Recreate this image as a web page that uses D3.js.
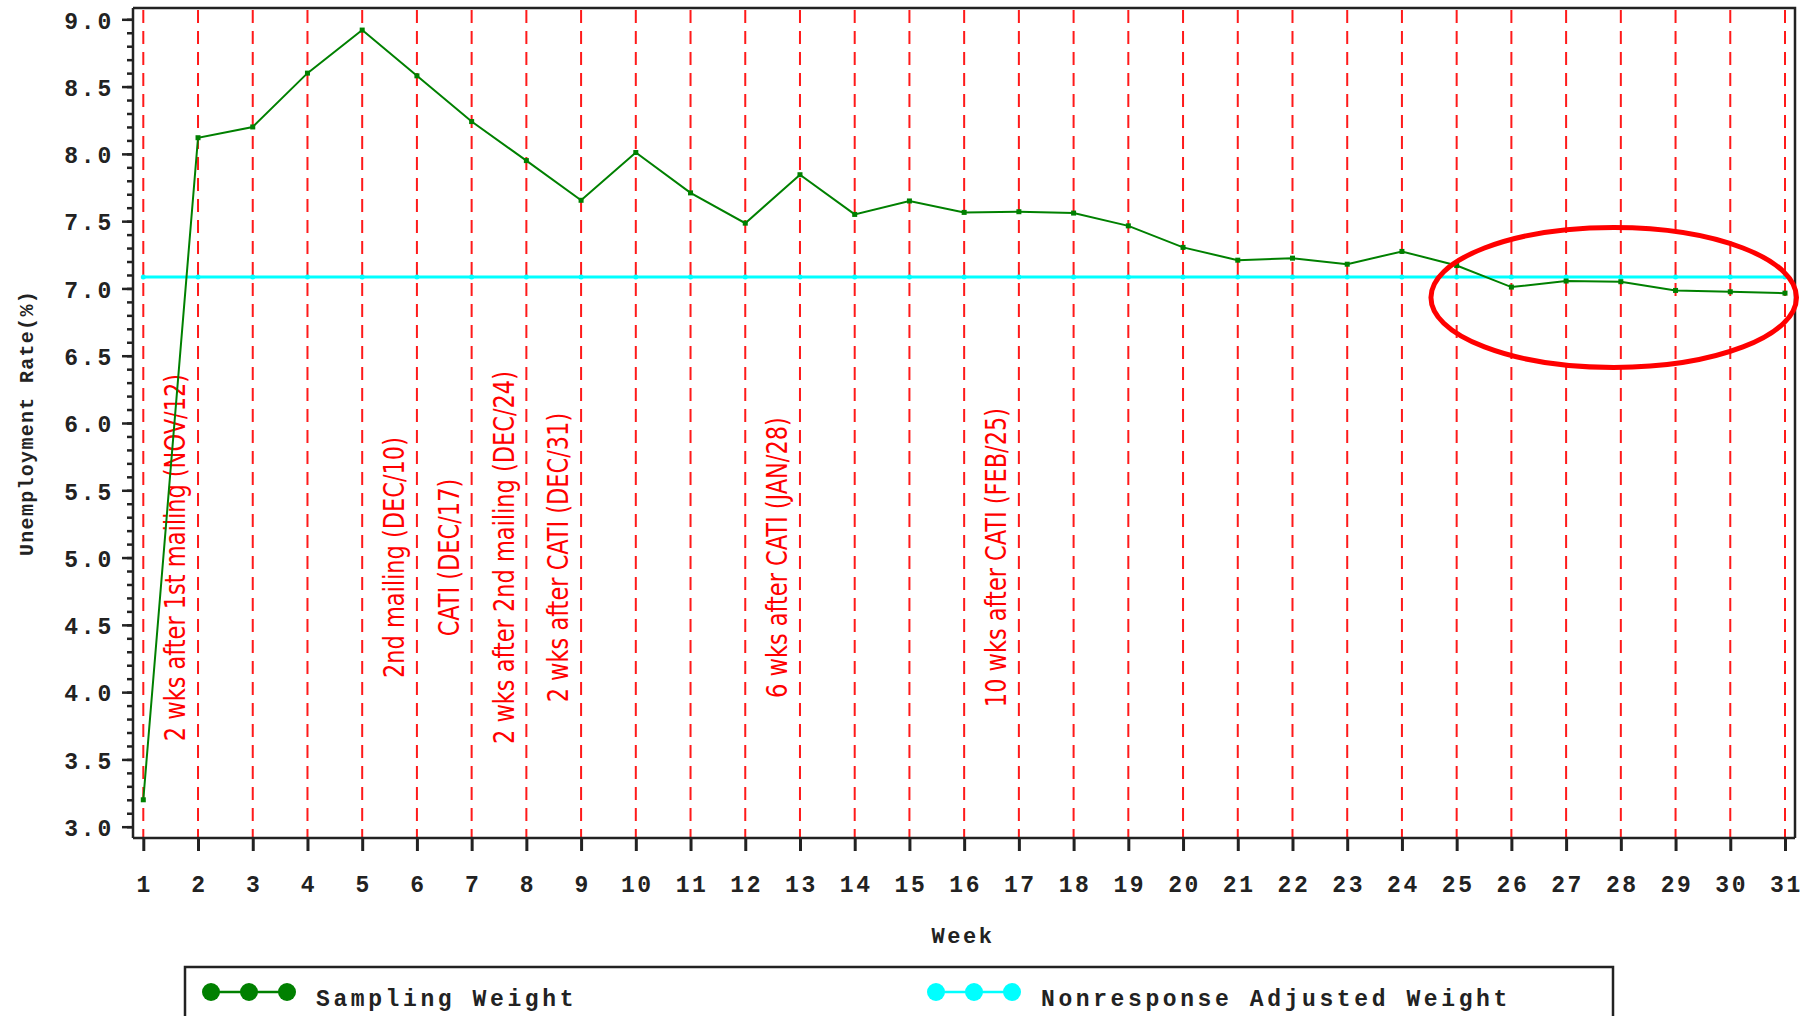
<!DOCTYPE html>
<html lang="en">
<head>
<meta charset="UTF-8">
<title>Unemployment rate by week</title>
<script src="https://cdn.jsdelivr.net/npm/d3@7"></script>
<style>
    body { margin: 0; background: #fff; }
    svg { display: block; }
    .mono { font-family: "Liberation Mono", "DejaVu Sans Mono", monospace; font-weight: bold; fill: #222; }
    .note { font-family: "Liberation Sans Narrow", "DejaVu Sans Condensed", sans-serif; fill: #ff0000; }
</style>
</head>
<body>
<div id="chart"></div>
<script>
    // data
    var weeks = [1,2,3,4,5,6,7,8,9,10,11,12,13,14,15,16,17,18,19,20,21,22,23,24,25,26,27,28,29,30,31];
    var samplingWeight = [3.20, 8.12, 8.20, 8.60, 8.92, 8.58, 8.24, 7.95, 7.655, 8.01, 7.71, 7.485, 7.845, 7.55, 7.65,
                          7.565, 7.57, 7.56, 7.465, 7.305, 7.21, 7.225, 7.18, 7.275, 7.17, 7.01, 7.055, 7.05, 6.985, 6.975, 6.965];
    var nonresponseWeight = [7.085, 7.085, 7.085, 7.085, 7.085, 7.085, 7.085, 7.085, 7.085, 7.085, 7.085, 7.085, 7.085, 7.085, 7.085,
                             7.085, 7.085, 7.085, 7.085, 7.085, 7.085, 7.085, 7.085, 7.085, 7.085, 7.085, 7.085, 7.085, 7.085, 7.085, 7.085];
    var yTicks = [3.0, 3.5, 4.0, 4.5, 5.0, 5.5, 6.0, 6.5, 7.0, 7.5, 8.0, 8.5, 9.0];
    var noteWeeks = [1, 5, 6, 7, 8, 12, 16];
    var noteLabels = ['2 wks after 1st mailing (NOV/12)', '2nd mailing (DEC/10)', 'CATI (DEC/17)',
                      '2 wks after 2nd mailing (DEC/24)', '2 wks after CATI (DEC/31)',
                      '6 wks after CATI (JAN/28)', '10 wks after CATI (FEB/25)'];
    var seriesNames = ['Sampling Weight', 'Nonresponse Adjusted Weight'];
    var seriesColors = ['#008000', '#00ffff'];

    var width = 1814, height = 1016;
    var frame = { left: 133, right: 1795, top: 8, bottom: 838 };

    var x = d3.scaleLinear().domain([1, 31]).range([143.3, 1785]);
    var y = d3.scaleLinear().domain([3, 9]).range([826.7, 19.3]);

    var svg = d3.select('#chart').append('svg')
        .attr('width', width)
        .attr('height', height);

    // red dashed reference lines, one per week
    svg.append('g').selectAll('line')
        .data(weeks)
        .join('line')
        .attr('x1', d => x(d)).attr('x2', d => x(d))
        .attr('y1', frame.top + 2).attr('y2', frame.bottom)
        .attr('stroke', '#ff1a1a')
        .attr('stroke-width', 2)
        .attr('stroke-dasharray', '13,8');

    // vertical notes
    svg.append('g').selectAll('text')
        .data(noteLabels)
        .join('text')
        .attr('class', 'note')
        .attr('font-size', 25)
        .attr('text-anchor', 'middle')
        .attr('dy', '0.35em')
        .attr('transform', (d, i) => 'translate(' + x(noteWeeks[i] + 0.59) + ',' + y(5.0) + ') rotate(-90) scale(1,1.1)')
        .text(d => d);

    // nonresponse adjusted (cyan)
    var line = d3.line().x((d, i) => x(weeks[i])).y(d => y(d));
    svg.append('path')
        .datum(nonresponseWeight)
        .attr('fill', 'none')
        .attr('stroke', seriesColors[1])
        .attr('stroke-width', 3)
        .attr('d', line);
    svg.append('g').selectAll('circle')
        .data(nonresponseWeight)
        .join('circle')
        .attr('cx', (d, i) => x(weeks[i]))
        .attr('cy', d => y(d))
        .attr('r', 2.5)
        .attr('fill', seriesColors[1]);

    // sampling weight (green)
    svg.append('path')
        .datum(samplingWeight)
        .attr('fill', 'none')
        .attr('stroke', seriesColors[0])
        .attr('stroke-width', 2)
        .attr('d', line);
    svg.append('g').selectAll('rect')
        .data(samplingWeight)
        .join('rect')
        .attr('x', (d, i) => x(weeks[i]) - 2.5)
        .attr('y', d => y(d) - 2.5)
        .attr('width', 5).attr('height', 5)
        .attr('fill', seriesColors[0]);

    // frame
    svg.append('path')
        .attr('d', 'M' + frame.left + ',' + frame.top + 'H' + frame.right + 'V' + frame.bottom)
        .attr('fill', 'none')
        .attr('stroke', '#222')
        .attr('stroke-width', 2.5);

    // x axis
    var xAxis = svg.append('g')
        .attr('transform', 'translate(0,' + frame.bottom + ')')
        .call(d3.axisBottom(x).tickValues(weeks).tickFormat(d3.format('d')).tickSize(13).tickSizeOuter(0).tickPadding(25));
    xAxis.select('.domain').attr('d', 'M' + frame.left + ',0H' + frame.right).attr('stroke', '#222').attr('stroke-width', 2.5);
    xAxis.selectAll('.tick line').attr('stroke', '#222').attr('stroke-width', 3);
    xAxis.selectAll('.tick text').attr('class', 'mono').attr('font-size', 23).attr('letter-spacing', 2.6)
        .attr('dx', 1);

    // y axis, minor ticks then major ticks
    var yMinor = svg.append('g')
        .attr('transform', 'translate(' + frame.left + ',0)')
        .call(d3.axisLeft(y).ticks(60).tickSize(6).tickFormat(''));
    yMinor.select('.domain').remove();
    yMinor.selectAll('.tick line').attr('stroke', '#222').attr('stroke-width', 2.5);

    var yAxis = svg.append('g')
        .attr('transform', 'translate(' + frame.left + ',0)')
        .call(d3.axisLeft(y).tickValues(yTicks).tickFormat(d3.format('.1f')).tickSize(11).tickSizeOuter(0).tickPadding(8));
    yAxis.select('.domain').attr('d', 'M0,' + frame.top + 'V' + frame.bottom).attr('stroke', '#222').attr('stroke-width', 2.5);
    yAxis.selectAll('.tick line').attr('stroke', '#222').attr('stroke-width', 2.5);
    yAxis.selectAll('.tick text').attr('class', 'mono').attr('font-size', 23).attr('letter-spacing', 2.8)
        .attr('dy', '0.38em');

    // axis titles
    svg.append('text')
        .attr('class', 'mono')
        .attr('font-size', 20)
        .attr('letter-spacing', 1.3)
        .attr('text-anchor', 'middle')
        .attr('dy', '0.35em')
        .attr('transform', 'translate(26,423) rotate(-90)')
        .text('Unemployment Rate(%)');

    svg.append('text')
        .attr('class', 'mono')
        .attr('font-size', 22)
        .attr('letter-spacing', 2.5)
        .attr('text-anchor', 'middle')
        .attr('x', 963).attr('y', 935)
        .attr('dy', '0.35em')
        .text('Week');

    // highlight ellipse around the last weeks
    svg.append('ellipse')
        .attr('cx', x(27.87))
        .attr('cy', y(6.933))
        .attr('rx', x(27.87 + 3.34) - x(27.87))
        .attr('ry', y(6.933 - 0.52) - y(6.933))
        .attr('fill', 'none')
        .attr('stroke', '#ff0000')
        .attr('stroke-width', 5);

    // legend
    svg.append('rect')
        .attr('x', 185).attr('y', 967)
        .attr('width', 1428).attr('height', 70)
        .attr('fill', 'none')
        .attr('stroke', '#222')
        .attr('stroke-width', 2.5);

    var legendX = [201, 926];
    var legend = svg.append('g').selectAll('g')
        .data(seriesNames)
        .join('g')
        .attr('transform', (d, i) => 'translate(' + legendX[i] + ',992)');
    legend.append('line')
        .attr('x1', 10).attr('x2', 86)
        .attr('stroke', (d, i) => seriesColors[i])
        .attr('stroke-width', 2.5);
    legend.selectAll('circle')
        .data((d, i) => [10, 48, 86].map(cx => ({ cx: cx, c: seriesColors[i] })))
        .join('circle')
        .attr('cx', d => d.cx)
        .attr('r', 9)
        .attr('fill', d => d.c);
    legend.append('text')
        .attr('class', 'mono')
        .attr('font-size', 23)
        .attr('letter-spacing', 3.6)
        .attr('x', 115)
        .attr('y', 6)
        .attr('dy', '0.35em')
        .text(d => d);
</script>
</body>
</html>
